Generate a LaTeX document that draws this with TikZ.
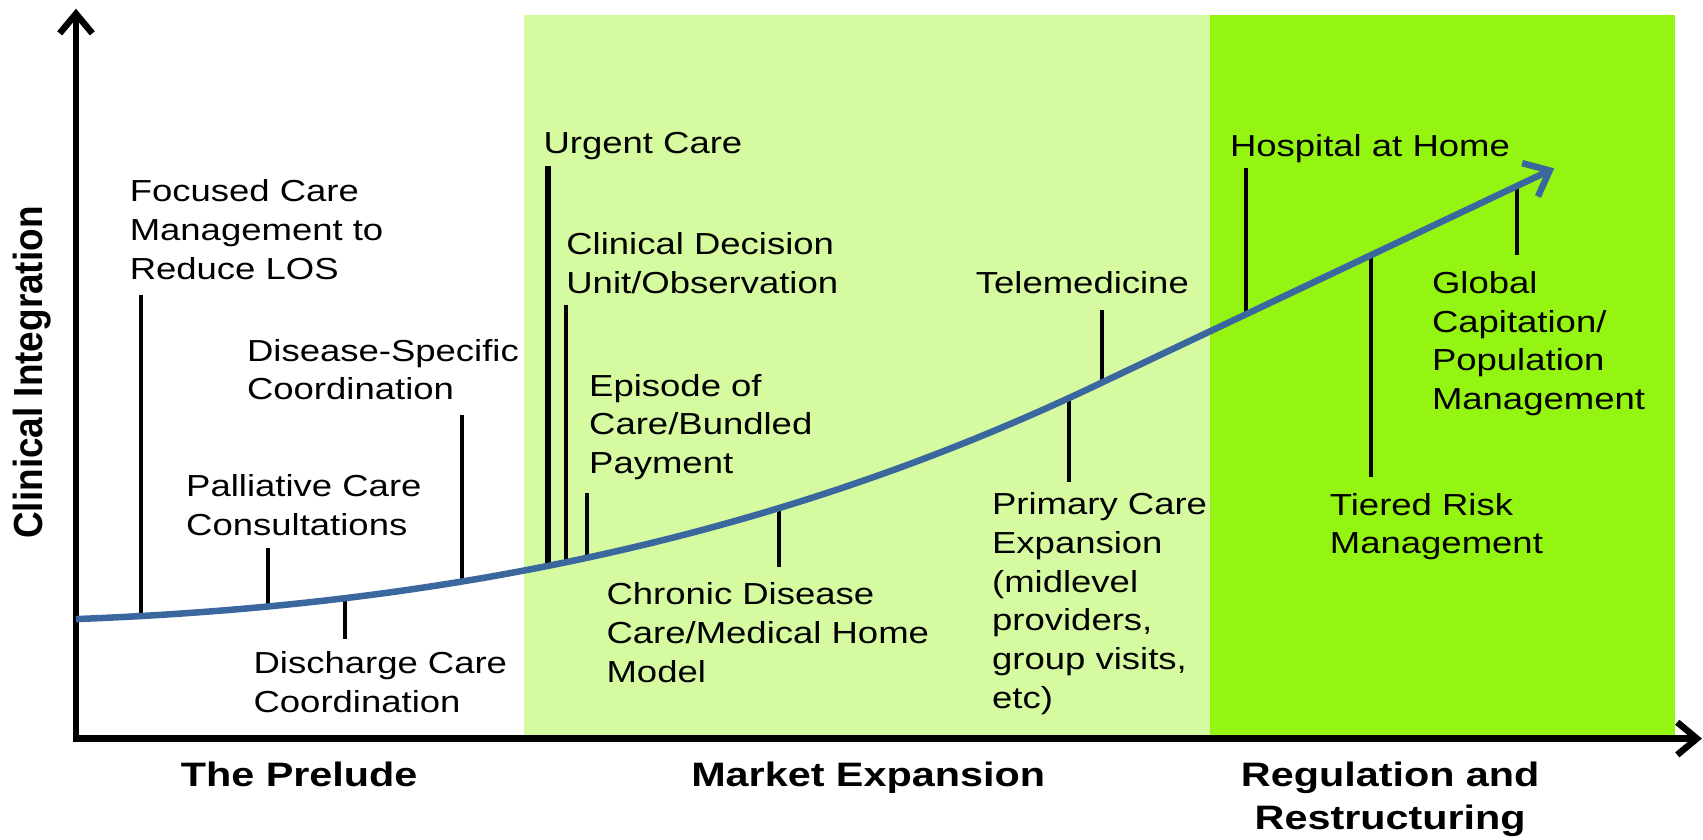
\documentclass[tikz,border=0pt]{standalone}
\usepackage{fontspec}
\setsansfont{Liberation Sans}
\usetikzlibrary{arrows.meta}

\definecolor{hellgruen}{RGB}{214,250,160}
\definecolor{gruen}{RGB}{148,245,19}
\definecolor{kurvenblau}{RGB}{58,104,158}

\begin{document}
\begin{tikzpicture}[%
    x=0.5pt, y=0.5pt,
    font=\sffamily\upshape,
    >={Straight Barb[length=9pt,width=15pt]}, % Voreinstellung
    achse/.style={<->, line width=3pt, line join=miter},
    kurve/.style={-{Straight Barb[length=10pt,width=17pt]}, line width=3pt, color=kurvenblau},
    marke/.style={line width=1.85pt},
    dickemarke/.style={line width=2.75pt},
    etikett/.style={anchor=base west, align=left, xscale=1.2, inner sep=0pt,
        font=\sffamily\fontsize{14}{17.8}\selectfont},
    phase/.style={anchor=base west, align=center, xscale=1.22, inner sep=0pt,
        font=\sffamily\bfseries\fontsize{15.6}{19.8}\selectfont},
    achsentitel/.style={xscale=1.1, rotate=90, inner sep=0pt,
        font=\sffamily\bfseries\fontsize{17}{20}\selectfont}
    ]
        \useasboundingbox (0,0) rectangle (1568,773);

        % Flaechen
        \fill[hellgruen] (482,93) rectangle (1114,759);
        \fill[gruen]     (1114,93) rectangle (1542,759);

        % Achsen
        \coordinate (O)    at (70,93);
        \coordinate (Yend) at (70,765);
        \coordinate (Xend) at (1567,93);
        \draw[achse] (Yend) -- (O) -- (Xend);

        % Kurve
        \coordinate (k0) at (70,203);
        \coordinate (k1) at (385,215);
        \coordinate (k2) at (700,270);
        \coordinate (k3) at (1015,421);
        \coordinate (k4) at (1431,618);
        \path (k0) .. controls (k1) and (k2) .. (k3)
                coordinate[pos=0.0635] (mFoc)
                coordinate[pos=0.1873] (mPal)
                coordinate[pos=0.2624] (mDsc)
                coordinate[pos=0.3757] (mDis)
                coordinate[pos=0.4603] (mUrg)
                coordinate[pos=0.4772] (mCdu)
                coordinate[pos=0.4974] (mEpi)
                coordinate[pos=0.6847] (mChr)
                coordinate[pos=0.9672] (mPri)
                coordinate[pos=1]      (mTel)
            -- (k4)
                coordinate[pos=0.3173] (mHos)
                coordinate[pos=0.5938] (mTie)
                coordinate[pos=0.9183] (mGlo);

        % Marken
        \foreach \m/\y in {Foc/501, Pal/268, Dsc/185, Dis/391, Cdu/492, Epi/319,
                           Chr/251, Pri/329, Tel/488, Hos/618, Tie/334, Glo/538}
        {
            \coordinate (e\m) at (m\m |- 0,\y);
            \draw[marke] (m\m) -- (e\m);
        }
        \coordinate (eUrg) at (mUrg |- 0,620);
        \draw[dickemarke] (mUrg) -- (eUrg);

        \draw[kurve] (k0) .. controls (k1) and (k2) .. (k3) -- (k4);

        % Beschriftungen (Grundlinie der letzten Zeile)
        \node[etikett] (lFoc) at (119,516) {Focused Care\\Management to\\Reduce LOS};
        \node[etikett] (lDis) at (227,405) {Disease-Specific\\Coordination};
        \node[etikett] (lPal) at (171,280) {Palliative Care\\Consultations};
        \node[etikett] (lDsc) at (233,117) {Discharge Care\\Coordination};
        \node[etikett] (lUrg) at (500,632) {Urgent Care};
        \node[etikett] (lCdu) at (521,503) {Clinical Decision\\Unit/Observation};
        \node[etikett] (lEpi) at (542,337) {Episode of\\Care/Bundled\\Payment};
        \node[etikett] (lChr) at (558,145) {Chronic Disease\\Care/Medical Home\\Model};
        \node[etikett] (lTel) at (898,503) {Telemedicine};
        \node[etikett] (lPri) at (913,121) {Primary Care\\Expansion\\(midlevel\\providers,\\group visits,\\etc)};
        \node[etikett] (lHos) at (1132,629) {Hospital at Home};
        \node[etikett] (lGlo) at (1318,396) {Global\\Capitation/\\Population\\Management};
        \node[etikett] (lTie) at (1224,263) {Tiered Risk\\Management};

        \node[phase] (pPre) at (166,49) {The Prelude};
        \node[phase] (pMar) at (636,49) {Market Expansion};
        \node[phase, anchor=base] (pReg) at (1280,9) {Regulation and\\Restructuring};

        \node[achsentitel] (yTit) at (30,430) {Clinical Integration};
    \end{tikzpicture}
\end{document}
